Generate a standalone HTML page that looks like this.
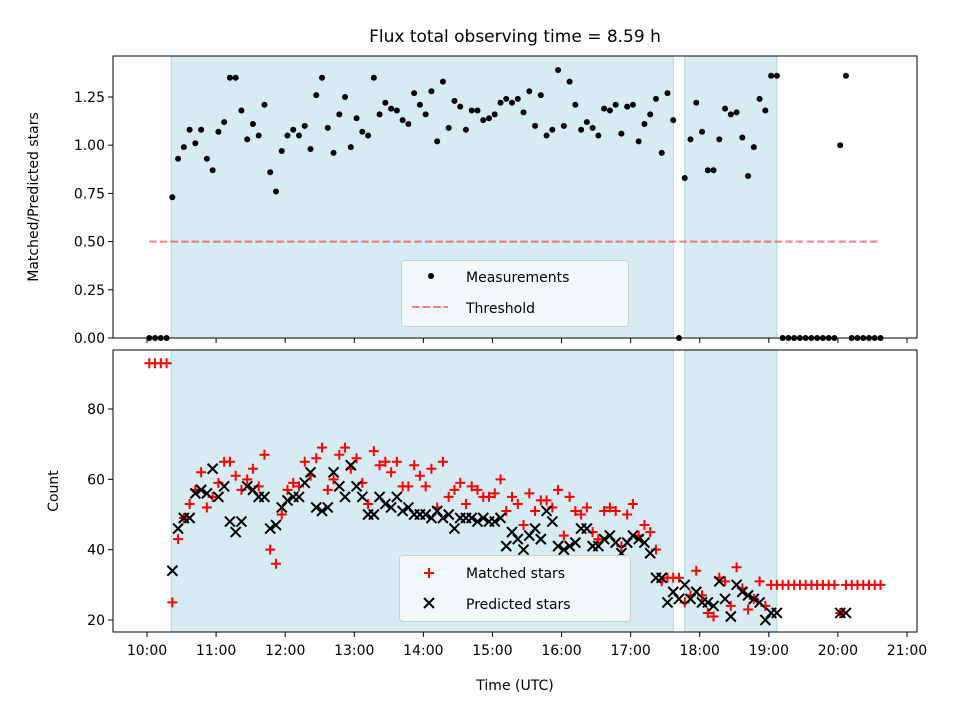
<!DOCTYPE html>
<html><head><meta charset="utf-8"><style>
body{margin:0;background:#fff}
svg{display:block;font-family:"DejaVu Sans","Liberation Sans",sans-serif}
</style></head><body>
<svg id="chart" width="960" height="720" viewBox="0 0 960 720"></svg>
<script>
const ratios=[0,0,0,0,
0.73,0.93,0.99,1.08,1.01,1.08,0.93,0.87,1.07,1.12,1.35,1.35,1.18,1.03,1.11,1.05,1.21,0.86,0.76,0.97,1.05,1.08,1.05,1.10,0.98,1.26,1.35,1.09,0.96,1.16,1.25,0.99,1.14,1.07,1.05,1.35,1.16,1.22,1.19,1.18,1.13,1.11,1.27,1.21,
1.16,1.28,1.02,1.33,1.09,1.23,1.20,1.08,1.18,1.18,1.13,1.14,1.16,1.22,1.24,1.22,1.24,1.17,1.28,1.10,1.26,1.05,1.08,1.39,1.10,1.33,1.21,1.08,1.12,1.09,1.05,1.19,1.18,1.21,1.06,1.20,1.21,1.02,1.11,1.16,1.24,0.96,1.27,1.13,
0,
0.83,1.03,1.22,1.07,0.87,0.87,1.03,1.19,1.16,1.17,1.04,0.84,0.99,1.24,1.18,1.36,1.36,
0,0,0,0,0,0,0,0,0,0,1.0,1.36,0,0,0,0,0,0];
const matched=[93,93,93,93,
25,43,49,53,57,62,52,55,59,65,65,61,57,60,63,58,67,40,36,50,57,59,58,65,61,66,69,57,60,67,69,63,66,59,53,68,64,65,62,65,58,58,64,61,
58,63,52,65,55,57,59,53,58,57,55,55,56,60,51,55,53,47,56,51,54,54,52,57,44,55,51,50,52,45,43,51,52,51,41,50,53,44,47,45,40,31,32,32,
32,
25,27,34,27,22,21,32,31,24,35,29,23,26,31,24,30,30,
30,30,30,30,30,30,30,30,30,30,22,30,30,30,30,30,30,30];
const predicted=[null,null,null,null,
34,46,49,49,56,57,56,63,55,58,48,45,48,58,57,55,55,46,47,52,54,55,55,59,62,52,51,52,62,58,55,64,58,55,50,50,55,53,52,55,51,52,50,50,
50,49,51,49,50,46,49,49,49,48,49,48,48,49,41,45,43,40,44,46,43,51,48,41,40,41,42,46,46,41,41,43,44,42,39,42,44,43,42,39,32,32,25,28,
26,
30,26,28,25,25,24,31,26,21,30,28,27,26,25,20,22,22,
null,null,null,null,null,null,null,null,null,null,22,22,null,null,null,null,null,null];
const startMinute=2, stepMinutes=5; // observation grid: 10:02 + 5 min steps
const spans=[[21,457],[467,547]]; // minutes after 10:00
const threshold=0.5;
const xTickLabels=["10:00","11:00","12:00","13:00","14:00","15:00","16:00","17:00","18:00","19:00","20:00","21:00"];
const topTicks=[0,0.25,0.5,0.75,1.0,1.25];
const botTicks=[20,40,60,80];

const NS="http://www.w3.org/2000/svg";
const svg=document.getElementById('chart');
function mk(tag,attrs,parent){const e=document.createElementNS(NS,tag);for(const k in attrs)e.setAttribute(k,attrs[k]);(parent||svg).appendChild(e);return e;}
const L=113,R=917,T1=56,B1=338,T2=350,B2=632;
const xs=m=>147+m/60*69.09;
const yTop=v=>338-v*192.8;
const yBot=c=>620-(c-20)*3.517;
const times=ratios.map((_,i)=>startMinute+i*stepMinutes);

// backgrounds & spans
[[T1,B1],[T2,B2]].forEach(([t,b],pi)=>{
  spans.forEach((s,si)=>{
    const r=mk('rect',{x:xs(s[0]),y:t,width:xs(s[1])-xs(s[0]),height:b-t,fill:'#add8e6','fill-opacity':0.5,stroke:'#add8e6','stroke-width':1});
    
    
  });
});
// threshold
const th=mk('line',{x1:xs(2),x2:xs(637),y1:yTop(threshold),y2:yTop(threshold),stroke:'#f00','stroke-opacity':0.5,'stroke-width':2,'stroke-dasharray':'7.4,3.2'});


// measurements
ratios.forEach((v,i)=>{
  const c=mk('circle',{cx:xs(times[i]),cy:yTop(v),r:3,fill:'#000'});
  
  
});
// counts
matched.forEach((v,i)=>{
  if(v==null)return;
  const x=xs(times[i]),y=yBot(v);
  const p=mk('path',{d:`M${x-5},${y}H${x+5}M${x},${y-5}V${y+5}`,stroke:'#f00','stroke-width':2});
  
  
});
predicted.forEach((v,i)=>{
  if(v==null)return;
  const x=xs(times[i]),y=yBot(v);
  const p=mk('path',{d:`M${x-5},${y-5}L${x+5},${y+5}M${x-5},${y+5}L${x+5},${y-5}`,stroke:'#000','stroke-width':2});
  
  
});
// frames
[[T1,B1,'top-axes-frame'],[T2,B2,'bottom-axes-frame']].forEach(([t,b,n])=>{
  const r=mk('rect',{x:L,y:t,width:R-L,height:b-t,fill:'none',stroke:'#000','stroke-width':1});
  
  
});
// x ticks
xTickLabels.forEach((lab,i)=>{
  const x=xs(i*60);
  mk('line',{x1:x,x2:x,y1:B1,y2:B1+5,stroke:'#000'});
  mk('line',{x1:x,x2:x,y1:B2,y2:B2+5,stroke:'#000'});
  const t=mk('text',{x:x,y:B2+23,'font-size':14,'text-anchor':'middle'});
  t.textContent=lab;
  
  
});
topTicks.forEach(v=>{
  const y=yTop(v);
  mk('line',{x1:L-5,x2:L,y1:y,y2:y,stroke:'#000'});
  const t=mk('text',{x:L-8,y:y+5,'font-size':14,'text-anchor':'end'});
  t.textContent=v.toFixed(2);
  
  
});
botTicks.forEach(v=>{
  const y=yBot(v);
  mk('line',{x1:L-5,x2:L,y1:y,y2:y,stroke:'#000'});
  const t=mk('text',{x:L-8,y:y+5,'font-size':14,'text-anchor':'end'});
  t.textContent=v;
  
  
});
</script>
<svg width="960" height="720" style="position:absolute;left:0;top:0">
<text x="515" y="42" font-size="17" text-anchor="middle" font-family="DejaVu Sans,Liberation Sans,sans-serif">Flux total observing time = 8.59 h</text>
<text x="515" y="690" font-size="14" text-anchor="middle" font-family="DejaVu Sans,Liberation Sans,sans-serif">Time (UTC)</text>
<text transform="translate(38,197) rotate(-90)" font-size="14" text-anchor="middle" font-family="DejaVu Sans,Liberation Sans,sans-serif">Matched/Predicted stars</text>
<text transform="translate(58,491) rotate(-90)" font-size="14" text-anchor="middle" font-family="DejaVu Sans,Liberation Sans,sans-serif">Count</text>
<g font-family="DejaVu Sans,Liberation Sans,sans-serif" font-size="14">
<rect x="401.5" y="260.5" width="227" height="66" rx="3" fill="#f5f9fb" fill-opacity="0.9" stroke="#ccc"/>
<circle cx="431" cy="276" r="3" fill="#000"/>
<text x="466" y="282">Measurements</text>
<line x1="412" x2="448" y1="307" y2="307" stroke="#f00" stroke-opacity="0.5" stroke-width="2" stroke-dasharray="7.4,3.2"/>
<text x="466" y="313">Threshold</text>
</g>
<g font-family="DejaVu Sans,Liberation Sans,sans-serif" font-size="14">
<rect x="399.5" y="555.5" width="231" height="66" rx="3" fill="#f5f9fb" fill-opacity="0.9" stroke="#ccc"/>
<path d="M424,573H434M429,568V578" stroke="#f00" stroke-width="2"/>
<text x="466" y="578">Matched stars</text>
<path d="M424,598L434,608M424,608L434,598" stroke="#000" stroke-width="2"/>
<text x="466" y="609">Predicted stars</text>
</g>
</svg>
</body></html>
